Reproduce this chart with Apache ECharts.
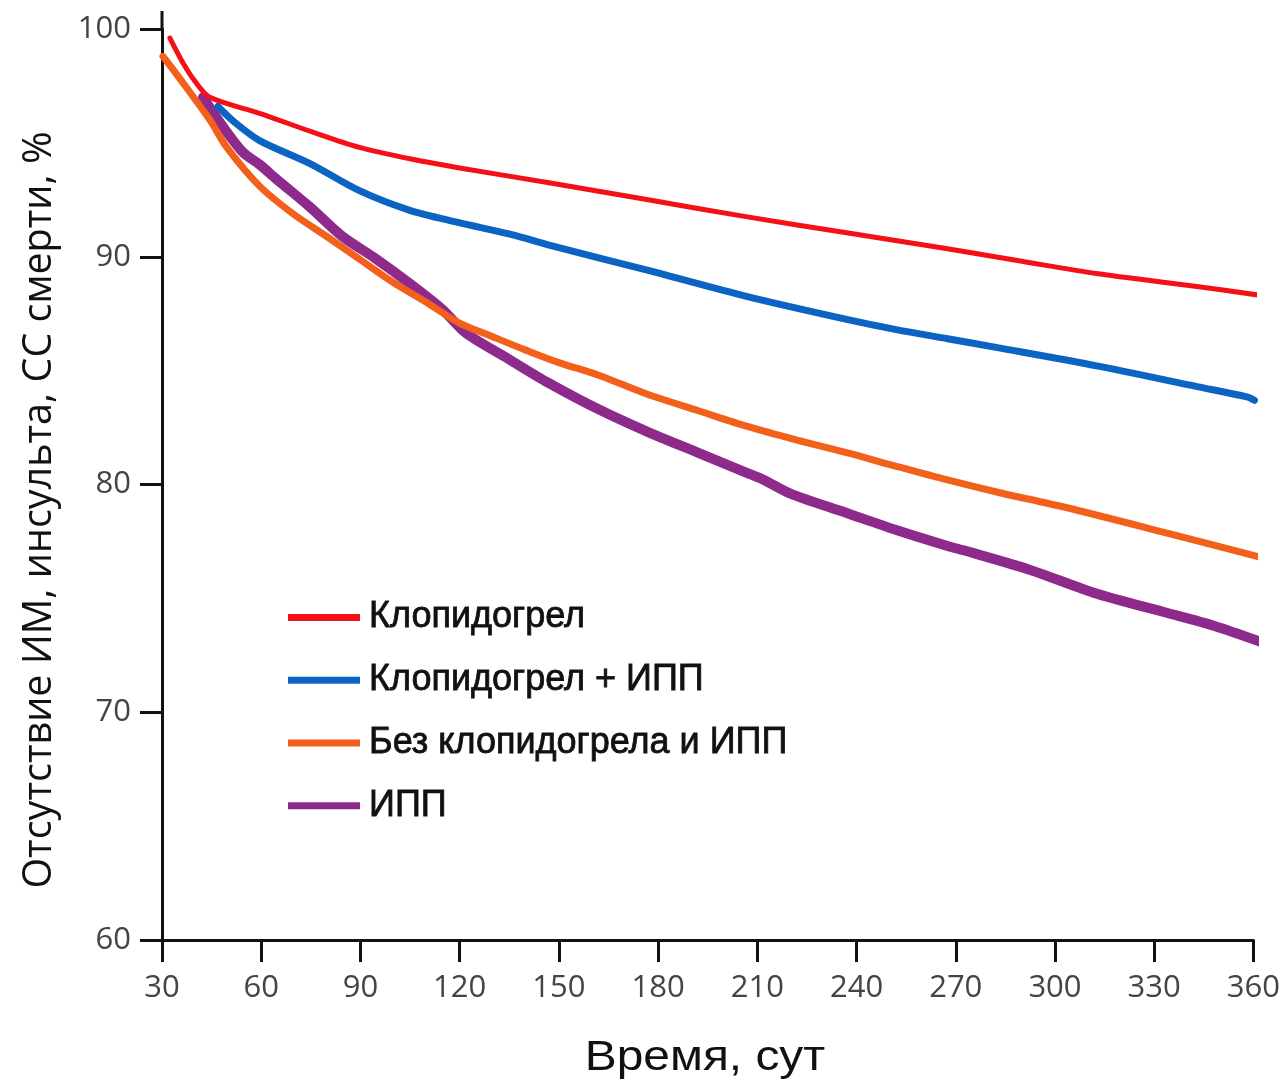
<!DOCTYPE html>
<html>
<head>
<meta charset="utf-8">
<script src="https://cdn.jsdelivr.net/npm/echarts@6/dist/echarts.min.js"></script>
<style>
html,body{margin:0;padding:0;background:#fff;}
#chart{width:1283px;height:1086px;}
</style>
</head>
<body>
<div id="chart"></div>
<script>
// ---- Data ----
const seriesNames = ['Клопидогрел', 'Клопидогрел + ИПП', 'Без клопидогрела и ИПП', 'ИПП'];

const redDays = [32.4, 36, 40, 44.5, 59.5, 75, 89.7, 105, 120, 147, 177, 207, 237, 267.5, 290, 313, 340, 362.4];
const redVals = [99.6, 98.6, 97.7, 97.0, 96.3, 95.5, 94.8, 94.3, 93.9, 93.25, 92.5, 91.75, 91.05, 90.35, 89.8, 89.25, 88.75, 88.3];

const blueDays = [46.9, 52, 59.5, 74.6, 89.7, 104.7, 119.8, 134.9, 150, 177, 207, 237, 252, 267.5, 283, 313, 343, 358, 360.3];
const blueVals = [96.6, 95.9, 95.1, 94.1, 92.9, 92.05, 91.5, 91.0, 90.4, 89.4, 88.25, 87.25, 86.8, 86.4, 86.0, 85.2, 84.3, 83.85, 83.7];

const orangeDays = [30.3, 35, 44.5, 49.6, 59.5, 69.5, 79.7, 89.7, 99.6, 109.9, 119.8, 129.8, 140, 150, 162, 177, 192, 207, 222, 237, 252, 267.5, 283, 303, 333, 365];
const orangeVals = [98.8, 97.9, 96.0, 94.8, 93.1, 91.9, 90.9, 89.9, 88.9, 88.0, 87.1, 86.5, 85.9, 85.35, 84.8, 83.95, 83.25, 82.55, 81.95, 81.4, 80.8, 80.2, 79.65, 79.0, 77.9, 76.7];

const purpleDays = [42.4, 48, 54.4, 59.5, 64.7, 74.6, 84.5, 94.8, 104.7, 114.7, 121.9, 134.9, 147, 162, 177, 192, 207, 212, 220, 237, 252, 267.5, 272.6, 292.5, 312.7, 332.9, 348, 363];
const purpleVals = [97.0, 95.8, 94.6, 94.05, 93.4, 92.2, 90.9, 89.9, 88.85, 87.7, 86.65, 85.5, 84.45, 83.3, 82.3, 81.4, 80.5, 80.2, 79.6, 78.75, 78.0, 77.3, 77.1, 76.25, 75.2, 74.4, 73.8, 73.05];

const xTickInfo = {min: 30, max: 360, step: 30};
const yTickInfo = {min: 60, max: 100, step: 10};

const xAxisTitle = 'Время, сут';
const yAxisTitle = 'Отсутствие ИМ, инсульта, СС смерти, %';

// ---- Build ----
function pairs(d, v) { return d.map((x, i) => [x, v[i]]); }

const chart = echarts.init(document.getElementById('chart'), null, {renderer: 'canvas'});

const lineSeries = [
  {name: seriesNames[0], data: pairs(redDays, redVals), color: '#f50f16', width: 5, z: 5},
  {name: seriesNames[1], data: pairs(blueDays, blueVals), color: '#0b63c4', width: 7, z: 4},
  {name: seriesNames[2], data: pairs(orangeDays, orangeVals), color: '#f2601c', width: 7, z: 3},
  {name: seriesNames[3], data: pairs(purpleDays, purpleVals), color: '#8d2a8c', width: 10, z: 2}
].map(s => ({
  name: s.name,
  type: 'line',
  data: s.data,
  smooth: 0.3,
  showSymbol: false,
  symbol: 'none',
  clip: false,
  z: s.z,
  itemStyle: {color: s.color},
  lineStyle: {color: s.color, width: s.width, cap: 'round', join: 'round'},
  emphasis: {disabled: true}
}));

const tickFont = "'Open Sans', 'Noto Sans', sans-serif";
const arialFont = "'Liberation Sans', Arial, sans-serif";

chart.setOption({
  animation: false,
  backgroundColor: '#fff',
  grid: {left: 162, right: 26, top: 29, bottom: 146, containLabel: false},
  legend: {
    orient: 'vertical',
    left: 288,
    top: 599,
    padding: 0,
    itemWidth: 72,
    itemHeight: 7,
    itemGap: 26,
    icon: 'rect',
    textStyle: {fontFamily: arialFont, fontSize: 36, fontWeight: 'normal', color: '#111',
      textBorderColor: '#111', textBorderWidth: 0.8, lineHeight: 36, padding: [0, 0, 0, 4]},
    data: seriesNames
  },
  xAxis: {
    type: 'value',
    min: xTickInfo.min,
    max: xTickInfo.max,
    interval: xTickInfo.step,
    axisLine: {show: true, onZero: false, lineStyle: {color: '#111', width: 3}},
    axisTick: {show: true, length: 22, lineStyle: {color: '#111', width: 3}},
    axisLabel: {fontFamily: tickFont, fontSize: 31, color: '#444', margin: 33},
    splitLine: {show: false}
  },
  yAxis: {
    type: 'value',
    min: yTickInfo.min,
    max: yTickInfo.max,
    interval: yTickInfo.step,
    axisLine: {show: true, onZero: false, lineStyle: {color: '#111', width: 3}},
    axisTick: {show: true, length: 22, lineStyle: {color: '#111', width: 3}},
    axisLabel: {fontFamily: tickFont, fontSize: 31, color: '#444', margin: 31},
    splitLine: {show: false}
  },
  series: lineSeries
});

// Axis-title texts and the short extension of the y axis line above 100
const topPt = chart.convertToPixel({gridIndex: 0}, [xTickInfo.min, yTickInfo.max]);
chart.setOption({
  graphic: [{
    type: 'text',
    rotation: Math.PI / 2,
    x: 40,
    y: 510,
    style: {
      text: yAxisTitle,
      fontFamily: tickFont,
      fontSize: 39.5,
      fill: '#111',
      align: 'center',
      verticalAlign: 'middle'
    }
  }, {
    type: 'text',
    x: 705,
    y: 1058,
    scaleX: 1.14,
    style: {
      text: xAxisTitle,
      fontFamily: arialFont,
      fontSize: 42,
      fill: '#111',
      align: 'center',
      verticalAlign: 'middle'
    }
  }, {
    type: 'line',
    shape: {x1: topPt[0], y1: topPt[1], x2: topPt[0], y2: topPt[1] - 18},
    style: {stroke: '#111', lineWidth: 3}
  }]
});
</script>
</body>
</html>
